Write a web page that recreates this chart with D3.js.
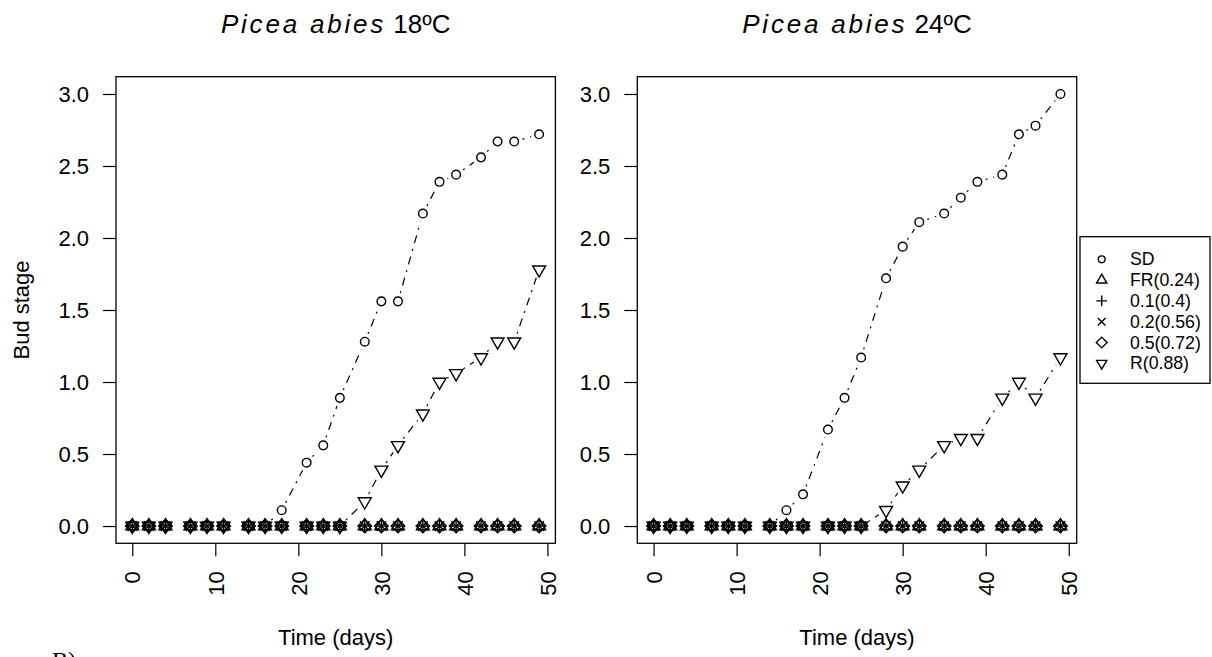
<!DOCTYPE html>
<html lang="en">
<head>
  <meta charset="UTF-8">
  <title>Picea abies bud stage</title>
  <script src="https://d3js.org/d3.v7.min.js"></script>
  <style>
    body { margin: 0; background: #fff; }
    svg { font-family: "Liberation Sans", Arial, sans-serif; display: block; }
    .axis text { font-size: 22px; fill: #000; }
    .axis line { stroke: #000; stroke-width: 1.2px; }
    .box { fill: none; stroke: #000; stroke-width: 1.3px; }
    .sym { fill: none; stroke: #000; stroke-width: 1.4px; }
    .trend { fill: none; stroke: #000; stroke-width: 1.2px; stroke-dasharray: 2,6,8,6; }
  </style>
</head>
<body>
  <div id="chart"></div>

  <script>
    // sampling days (same for both temperatures)
    const days = [0, 2, 4, 7, 9, 11, 14, 16, 18, 21, 23, 25, 28, 30, 32, 35, 37, 39, 42, 44, 46, 49];

    // 18ºC
    const sd18  = [0, 0, 0, 0, 0, 0, 0, 0, 0.11, 0.44, 0.56, 0.89, 1.28, 1.56, 1.56, 2.17, 2.39, 2.44, 2.56, 2.67, 2.67, 2.72];
    const fr18  = [0, 0, 0, 0, 0, 0, 0, 0, 0, 0, 0, 0, 0, 0, 0, 0, 0, 0, 0, 0, 0, 0];
    const p1_18 = [0, 0, 0, 0, 0, 0, 0, 0, 0, 0, 0, 0, 0, 0, 0, 0, 0, 0, 0, 0, 0, 0];
    const p2_18 = [0, 0, 0, 0, 0, 0, 0, 0, 0, 0, 0, 0, 0, 0, 0, 0, 0, 0, 0, 0, 0, 0];
    const p5_18 = [0, 0, 0, 0, 0, 0, 0, 0, 0, 0, 0, 0, 0, 0, 0, 0, 0, 0, 0, 0, 0, 0];
    const r18   = [0, 0, 0, 0, 0, 0, 0, 0, 0, 0, 0, 0, 0.17, 0.39, 0.56, 0.78, 1.0, 1.06, 1.17, 1.28, 1.28, 1.78];

    // 24ºC
    const sd24  = [0, 0, 0, 0, 0, 0, 0, 0.11, 0.22, 0.67, 0.89, 1.17, 1.72, 1.94, 2.11, 2.17, 2.28, 2.39, 2.44, 2.72, 2.78, 3.0];
    const fr24  = [0, 0, 0, 0, 0, 0, 0, 0, 0, 0, 0, 0, 0, 0, 0, 0, 0, 0, 0, 0, 0, 0];
    const p1_24 = [0, 0, 0, 0, 0, 0, 0, 0, 0, 0, 0, 0, 0, 0, 0, 0, 0, 0, 0, 0, 0, 0];
    const p2_24 = [0, 0, 0, 0, 0, 0, 0, 0, 0, 0, 0, 0, 0, 0, 0, 0, 0, 0, 0, 0, 0, 0];
    const p5_24 = [0, 0, 0, 0, 0, 0, 0, 0, 0, 0, 0, 0, 0, 0, 0, 0, 0, 0, 0, 0, 0, 0];
    const r24   = [0, 0, 0, 0, 0, 0, 0, 0, 0, 0, 0, 0, 0.11, 0.28, 0.39, 0.56, 0.61, 0.61, 0.89, 1.0, 0.89, 1.17];

    const seriesNames = ["SD", "FR(0.24)", "0.1(0.4)", "0.2(0.56)", "0.5(0.72)", "R(0.88)"];
    const shapes = ["circle", "triUp", "plus", "cross", "diamond", "triDown"];
    const xTicks = [0, 10, 20, 30, 40, 50];
    const yTicks = [0, 0.5, 1.0, 1.5, 2.0, 2.5, 3.0];

    const panels = [
      { temp: "18ºC", left: 116, series: [sd18, fr18, p1_18, p2_18, p5_18, r18], ylab: true },
      { temp: "24ºC", left: 637.3, series: [sd24, fr24, p1_24, p2_24, p5_24, r24], ylab: false }
    ];

    const W = 1212, H = 657;
    const boxW = 439.4, boxTop = 76.7, boxBottom = 543.3;

    const svg = d3.select("#chart").append("svg")
      .attr("width", W)
      .attr("height", H);

    // R-style plotting symbols
    function symbolPath(shape, cx, cy, R) {
      const s2 = Math.SQRT2 * R;
      if (shape === "circle") {
        const r = R * 0.9;
        return `M${cx + r},${cy}A${r},${r} 0 1,1 ${cx - r},${cy}A${r},${r} 0 1,1 ${cx + r},${cy}Z`;
      }
      if (shape === "triUp" || shape === "triDown") {
        const r = 1.5551 * R, yc = 0.7776 * R, xc = 1.3468 * R;
        const sg = shape === "triUp" ? 1 : -1;
        return `M${cx},${cy - sg * r}L${cx + xc},${cy + sg * yc}L${cx - xc},${cy + sg * yc}Z`;
      }
      if (shape === "plus") return `M${cx - s2},${cy}H${cx + s2}M${cx},${cy - s2}V${cy + s2}`;
      if (shape === "cross") return `M${cx - R},${cy - R}L${cx + R},${cy + R}M${cx - R},${cy + R}L${cx + R},${cy - R}`;
      return `M${cx - s2},${cy}L${cx},${cy - s2}L${cx + s2},${cy}L${cx},${cy + s2}Z`;
    }

    panels.forEach(p => {
      // R default 4% padding around data range 0..49 / 0..3
      const x = d3.scaleLinear().domain([-1.96, 50.96]).range([p.left, p.left + boxW]);
      const y = d3.scaleLinear().domain([-0.12, 3.12]).range([boxBottom, boxTop]);

      const g = svg.append("g");

      // lines (type "b": gaps around the points), skipped where both ends are zero
      const gap = 8.5;
      p.series.forEach(vals => {
        for (let j = 0; j < days.length - 1; j++) {
          if (vals[j] === 0 && vals[j + 1] === 0) continue;
          const x0 = x(days[j]), y0 = y(vals[j]), x1 = x(days[j + 1]), y1 = y(vals[j + 1]);
          const len = Math.hypot(x1 - x0, y1 - y0);
          if (len <= 2 * gap) continue;
          const ux = (x1 - x0) / len, uy = (y1 - y0) / len;
          g.append("line")
            .attr("class", "trend")
            .attr("x1", x0 + ux * gap).attr("y1", y0 + uy * gap)
            .attr("x2", x1 - ux * gap).attr("y2", y1 - uy * gap);
        }
      });

      // points
      p.series.forEach((vals, i) => {
        g.selectAll(null)
          .data(days.map((d, j) => ({ d: d, v: vals[j] })))
          .enter()
          .append("path")
          .attr("class", "sym")
          .attr("d", e => symbolPath(shapes[i], x(e.d), y(e.v), 4.8));
      });

      // box
      g.append("rect")
        .attr("class", "box")
        .attr("x", p.left).attr("y", boxTop)
        .attr("width", boxW).attr("height", boxBottom - boxTop);

      // axes
      const xAxis = g.append("g")
        .attr("class", "axis")
        .attr("transform", `translate(0,${boxBottom})`)
        .call(d3.axisBottom(x).tickValues(xTicks).tickSize(13).tickSizeOuter(0));
      xAxis.select(".domain").remove();
      xAxis.selectAll("text")
        .attr("transform", "rotate(-90)")
        .attr("x", -28)
        .attr("y", 0)
        .attr("dy", "0.35em")
        .style("text-anchor", "end");

      const yAxis = g.append("g")
        .attr("class", "axis")
        .attr("transform", `translate(${p.left},0)`)
        .call(d3.axisLeft(y).tickValues(yTicks).tickFormat(d3.format(".1f")).tickSize(13).tickPadding(14).tickSizeOuter(0));
      yAxis.select(".domain").remove();
      xAxis.attr("font-size", null).attr("font-family", null);
      yAxis.attr("font-size", null).attr("font-family", null);

      // titles
      const cx = p.left + boxW / 2;
      const t = g.append("text")
        .attr("x", cx).attr("y", 32.6)
        .attr("text-anchor", "middle")
        .style("font-size", "26px");
      t.append("tspan").style("font-style", "italic").style("letter-spacing", "2.8px").text("Picea abies");
      t.append("tspan").text(" " + p.temp);

      g.append("text")
        .attr("x", cx).attr("y", 645)
        .attr("text-anchor", "middle")
        .style("font-size", "22px")
        .text("Time (days)");

      if (p.ylab) {
        g.append("text")
          .attr("transform", `translate(21.7,${(boxTop + boxBottom) / 2}) rotate(-90)`)
          .attr("text-anchor", "middle")
          .attr("dy", "0.35em")
          .style("font-size", "22px")
          .text("Bud stage");
      }
    });

    // legend
    const lg = svg.append("g");
    lg.append("rect")
      .attr("class", "box")
      .attr("x", 1080).attr("y", 236.7)
      .attr("width", 130).attr("height", 146.6);
    seriesNames.forEach((name, i) => {
      const ly = 259.3 + i * 20.8;
      lg.append("path")
        .attr("class", "sym")
        .attr("d", symbolPath(shapes[i], 1101.7, ly, 3.8));
      lg.append("text")
        .attr("x", 1130).attr("y", ly)
        .attr("dy", "0.35em")
        .style("font-size", "17.7px")
        .text(name);
    });

    // panel label, cut off at the bottom of the figure as in the original
    svg.append("text")
      .attr("x", 52).attr("y", 668)
      .style("font-family", "'Liberation Serif', 'Times New Roman', serif")
      .style("font-size", "24px")
      .text("B)");
  </script>
</body>
</html>
